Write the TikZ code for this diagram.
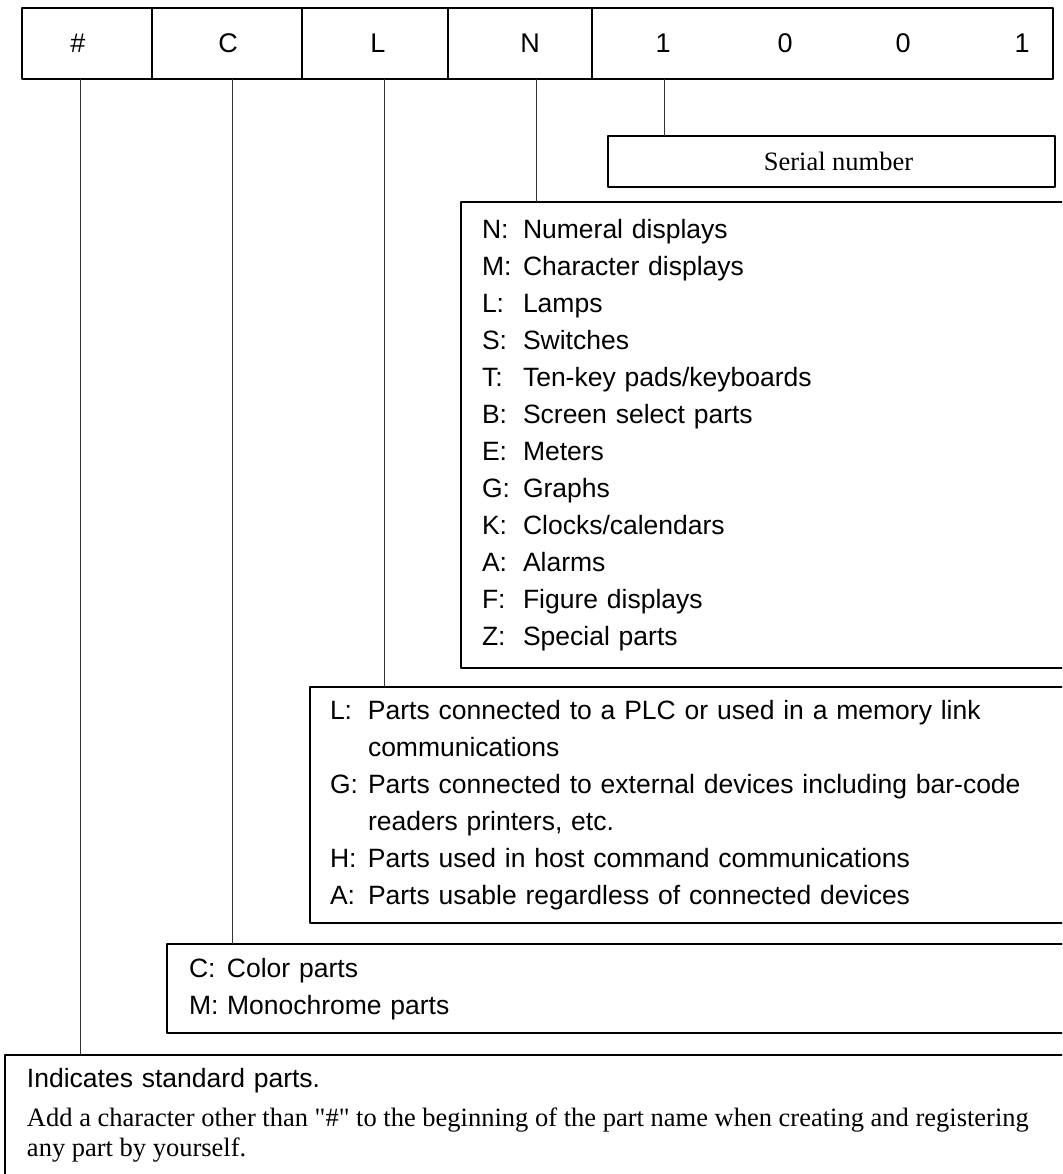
\documentclass[tikz,border=0pt]{standalone}
\usepackage{fontspec}
\setmainfont{Liberation Serif}
\setsansfont{Liberation Sans}
\newfontfamily\plainserif{Liberation Serif}
\usepackage{array}
\begin{document}
\begin{tikzpicture}[x=1pt,y=-1pt,line join=round,
	font=\sffamily\fontsize{26.5}{37}\selectfont,
	cell/.style={draw,line width=2.4pt,inner sep=0pt,outer sep=0pt,minimum height=71pt},
	ch/.style={inner sep=0pt,font=\sffamily\fontsize{27}{32}\selectfont},
	legend/.style={draw,line width=2.4pt,outer sep=0pt,anchor=north west,align=left},
	lead/.style={line width=1pt,black!80}]
	\useasboundingbox (0,0) rectangle (1062,1174);
	\clip (0,0) rectangle (1062,1174);
	% part name cells
	\node[cell,minimum width=130pt] (c1) at (87,43.5) {};
	\node[cell,minimum width=150pt] (c2) at (227,43.5) {};
	\node[cell,minimum width=146pt] (c3) at (375,43.5) {};
	\node[cell,minimum width=144pt] (c4) at (520,43.5) {};
	\node[cell,minimum width=461pt] (c5) at (822.5,43.5) {};
	\node[ch] (kH) at (78,43.5) {\#};
	\node[ch] (kC) at (228,43.5) {C};
	\node[ch] (kL) at (378,43.5) {L};
	\node[ch] (kN) at (530,43.5) {N};
	\foreach \x/\d/\n in {663/1/d1,785/0/d2,903/0/d3,1022/1/d4}
	\node[ch] (\n) at (\x,43.5) {\d};
	% legend boxes
	\node[draw,line width=2.4pt,outer sep=0pt,minimum width=447pt,minimum height=51pt,
	font=\rmfamily\fontsize{26.5}{30}\selectfont] (serial) at (831.5,161.5) {\hspace{14pt}Serial number};
	\node[legend,inner xsep=21pt,inner ysep=11pt,text width=640pt] (boxN) at (461,202) {%
		\begin{tabular}{@{}p{41pt}@{}l@{}}
			N: & Numeral displays\\
			M: & Character displays\\
			L: & Lamps\\
			S: & Switches\\
			T: & Ten-key pads/keyboards\\
			B: & Screen select parts\\
			E: & Meters\\
			G: & Graphs\\
			K: & Clocks/calendars\\
			A: & Alarms\\
			F: & Figure displays\\
			Z: & Special parts
	\end{tabular}};
	\node[legend,inner xsep=20pt,inner ysep=7pt,text width=800pt] (boxL) at (310,687) {%
		\begin{tabular}{@{}p{38pt}@{}l@{}}
			L: & Parts connected to a PLC or used in a memory link\\
			& communications\\
			G: & Parts connected to external devices including bar-code\\
			& readers printers, etc.\\
			H: & Parts used in host command communications\\
			A: & Parts usable regardless of connected devices
	\end{tabular}};
	\node[legend,inner xsep=22pt,inner ysep=7.5pt,text width=950pt] (boxC) at (167,944) {%
		\begin{tabular}{@{}p{38pt}@{}l@{}}
			C: & Color parts\\
			M: & Monochrome parts
	\end{tabular}};
	\node[legend,inner xsep=22pt,inner ysep=7pt,text width=1100pt,text depth=150pt] (boxH) at (5,1055) {%
		Indicates standard parts.\strut\par\vspace{9pt}
		\plainserif\fontsize{26.5}{30}\selectfont\spaceskip=0pt\xspaceskip=0pt\relax
		Add a character other than "\#" to the beginning of the part name when creating and registering\par
		any part by yourself.\par};
	% leads
	\coordinate (tH) at (80,79);
	\coordinate (tC) at (232,79);
	\coordinate (tL) at (384,79);
	\coordinate (tN) at (536,79);
	\coordinate (t1) at (664,79);
	\draw[lead]
	(t1)--(t1 |- serial.north)
	(tN)--(tN |- boxN.north)
	(tL)--(tL |- boxL.north)
	(tC)--(tC |- boxC.north)
	(tH)--(tH |- boxH.north)
	;
\end{tikzpicture}
\end{document}
